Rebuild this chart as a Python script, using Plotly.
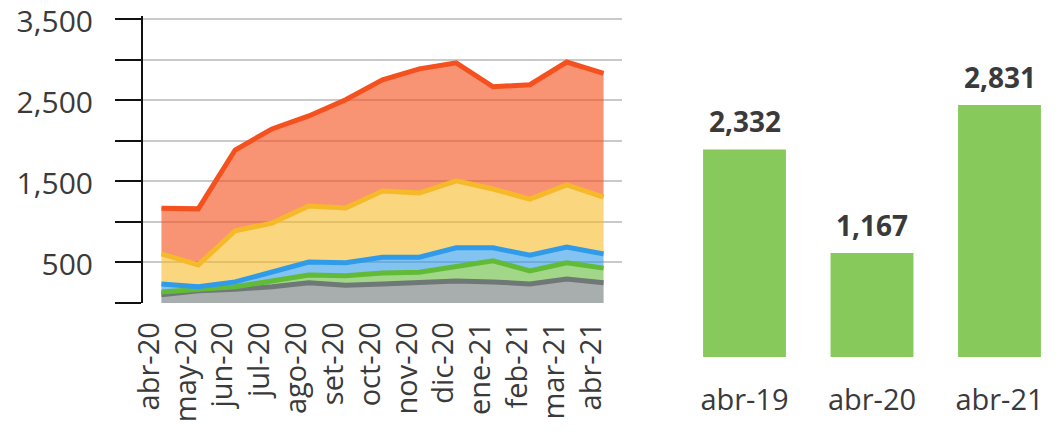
import plotly.graph_objects as go

months = ["abr-20", "may-20", "jun-20", "jul-20", "ago-20", "set-20", "oct-20",
          "nov-20", "dic-20", "ene-21", "feb-21", "mar-21", "abr-21"]

# stacked layers (bottom to top)
gray_vals = [100, 150, 170, 200, 250, 220, 235, 245, 270, 260, 235, 295, 250]
green_vals = [35, 25, 30, 70, 95, 115, 135, 135, 175, 260, 160, 200, 180]
blue_vals = [100, 25, 60, 110, 160, 160, 195, 185, 235, 160, 195, 195, 175]
yellow_vals = [370, 270, 630, 605, 690, 675, 815, 790, 825, 725, 690, 765, 700]
red_vals = [562, 690, 995, 1160, 1110, 1335, 1370, 1530, 1455, 1260, 1410, 1515, 1526]

y_tickvals = [0, 500, 1000, 1500, 2000, 2500, 3000, 3500]
y_ticktext = ["", "500", "", "1,500", "", "2,500", "", "3,500"]

bar_cats = ["abr-19", "abr-20", "abr-21"]
bar_vals = [2332, 1167, 2831]

FONT = "Open Sans"
TXT = "#3a3a3a"

layers = [
    ("gray", gray_vals, "#6f7777", "rgba(110,118,118,0.6)"),
    ("green", green_vals, "#62bb37", "rgba(100,188,58,0.6)"),
    ("blue", blue_vals, "#2f9be9", "rgba(47,155,232,0.6)"),
    ("yellow", yellow_vals, "#f6b92a", "rgba(246,186,42,0.6)"),
    ("red", red_vals, "#f4511e", "rgba(244,81,30,0.62)"),
]

fig = go.Figure()
for name, vals, lc, fc in layers:
    fig.add_trace(go.Scatter(
        x=months, y=vals, name=name, stackgroup="s", mode="lines",
        line=dict(color=lc, width=5), fillcolor=fc,
        xaxis="x", yaxis="y", showlegend=False, hoverinfo="skip"))

# helper trace that only carries the category labels (label axis x3)
fig.add_trace(go.Scatter(x=months, y=[None] * len(months), mode="lines",
                         xaxis="x3", yaxis="y", showlegend=False, hoverinfo="skip"))

fig.add_trace(go.Bar(
    x=bar_cats, y=bar_vals, marker=dict(color="#88c95b", line=dict(width=0)),
    width=0.65, xaxis="x2", yaxis="y2", showlegend=False))

for c, v in zip(bar_cats, bar_vals):
    fig.add_annotation(x=c, y=v, xref="x2", yref="y2", text=f"{v:,}",
                       showarrow=False, yanchor="bottom", yshift=7,
                       font=dict(family=FONT, size=28, color=TXT, weight="bold"))

# y scale: 0 -> 303px, 3500 -> 19px
ppu = (303 - 19) / 3500
y_lo, y_hi = -5, 3540
y_bot_px = 303 + (0 - y_lo) * ppu
y_top_px = 19 - (y_hi - 3500) * ppu

xdom = [143/1064, 622/1064]
lab_shift = 0.33

fig.update_layout(
    width=1064, height=432,
    margin=dict(l=0, r=0, t=0, b=0),
    paper_bgcolor="white", plot_bgcolor="rgba(0,0,0,0)",
    font=dict(family=FONT, color=TXT),
    xaxis=dict(domain=xdom, range=[-0.5, 12.5], type="category",
               showticklabels=False, showgrid=False,
               showline=False, zeroline=False, ticks="",
               automargin=False, anchor="y"),
    xaxis3=dict(domain=xdom, range=[-0.5 + lab_shift, 12.5 + lab_shift], type="category",
                overlaying="x", anchor="y",
                tickangle=-90, tickfont=dict(size=29, color=TXT), showgrid=False,
                showline=False, zeroline=False, ticks="", ticklabelstandoff=12,
                ticklabeloverflow="allow", automargin=False),
    yaxis=dict(domain=[(432-y_bot_px)/432, (432-y_top_px)/432], range=[y_lo, y_hi],
               tickvals=y_tickvals, ticktext=y_ticktext,
               tickfont=dict(size=30, color=TXT),
               showgrid=True, gridcolor="#c9c9c9", gridwidth=2,
               showline=True, linecolor="#111111", linewidth=2,
               ticks="outside", ticklen=26, tickwidth=2, tickcolor="#111111",
               ticklabelstandoff=16, ticklabelshift=2, ticklabeloverflow="allow",
               zeroline=False, automargin=False, anchor="x"),
    xaxis2=dict(domain=[680.75/1064, 1063.25/1064], range=[-0.5, 2.5], type="category",
                tickfont=dict(size=29, color=TXT), showgrid=False, showline=False,
                zeroline=False, ticks="", ticklabelstandoff=23, automargin=False,
                ticklabeloverflow="allow", anchor="y2"),
    yaxis2=dict(domain=[(432-357)/432, (432-72.1)/432], range=[0, 3200], visible=False,
                anchor="x2"),
)

fig.write_html("out.html", config={"displayModeBar": False},
               post_script="document.body.style.margin='0';")
